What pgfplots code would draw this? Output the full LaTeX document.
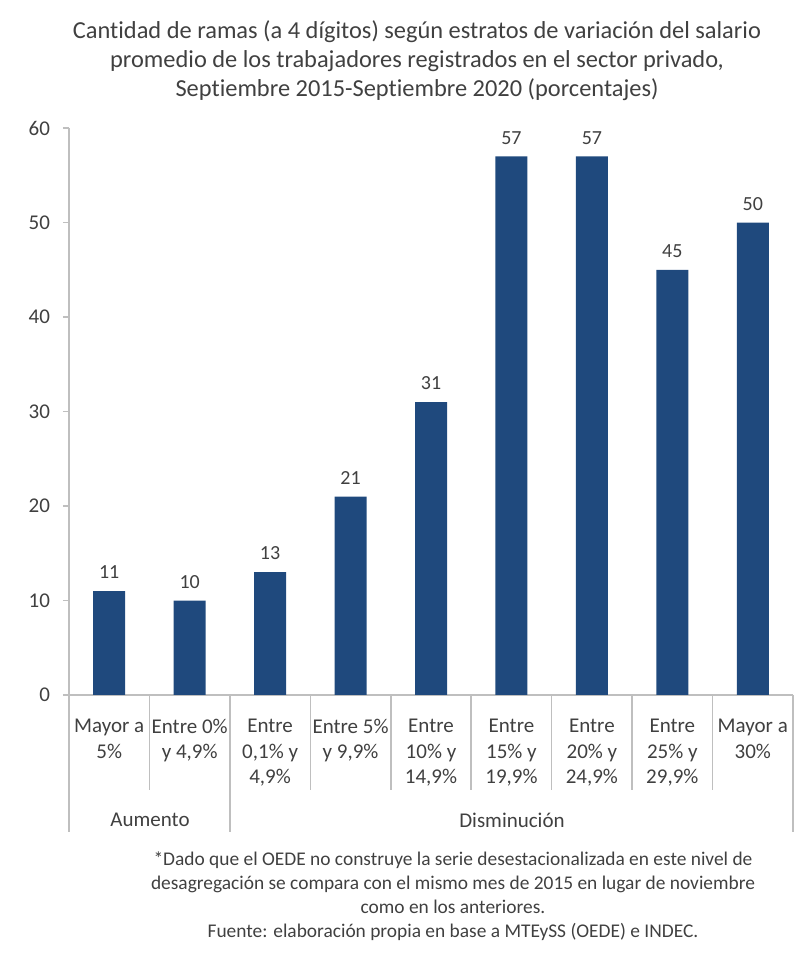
\documentclass[border=0pt]{standalone}
\usepackage{pgfplots}
\pgfplotsset{compat=1.18}
\usepackage{fontspec}
\setmainfont[Ligatures=NoCommon]{Carlito}
\definecolor{barblue}{RGB}{31,73,125}
\definecolor{txt}{RGB}{64,64,64}
\definecolor{axgray}{RGB}{191,191,191}
\begin{document}
\begin{tikzpicture}
\useasboundingbox (0pt,0pt) rectangle (400pt,480pt);
\begin{axis}[
  at={(34.5pt,132.5pt)}, anchor=south west,
  scale only axis, width=362pt, height=283.5pt,
  xmin=-0.5, xmax=8.5, ymin=0, ymax=60,
  axis x line*=bottom, axis y line*=left,
  axis line style={draw=axgray, line width=0.8pt},
  ytick={0,10,20,30,40,50,60},
  tick align=outside,
  major tick length=3pt,
  ytick style={draw=axgray, line width=0.8pt},
  xtick=data,
  xtick style={draw=none},
  xticklabels={{Mayor a\\5\%},{Entre 0\%\\y 4,9\%},{Entre\\0,1\% y\\4,9\%},{Entre 5\%\\y 9,9\%},{Entre\\10\% y\\14,9\%},{Entre\\15\% y\\19,9\%},{Entre\\20\% y\\24,9\%},{Entre\\25\% y\\29,9\%},{Mayor a\\30\%}},
  xticklabel style={align=center, anchor=north, font=\fontsize{10.5}{12.75}\selectfont, text=txt, yshift=-5.5pt},
  yticklabel style={font=\fontsize{10.5}{12}\selectfont, text=txt, xshift=-3pt},
  /pgf/number format/assume math mode=true,
  nodes near coords,
  every node near coord/.append style={font=\fontsize{10}{12}\selectfont, text=txt, yshift=2.5pt},
  clip=false,
]
\addplot[ybar, bar width=16pt, fill=barblue, draw=none] coordinates {
 (0,11) (1,10) (2,13) (3,21) (4,31) (5,57) (6,57) (7,45) (8,50)};
\end{axis}
\begin{scope}[x=0.5pt,y=0.5pt]
\node[align=center,text=txt,font=\fontsize{12.2}{14.5}\selectfont] at (417,899)
 {Cantidad de ramas (a 4 dígitos) según estratos de variación del salario\\
  promedio de los trabajadores registrados en el sector privado,\\
  Septiembre 2015-Septiembre 2020 (porcentajes)};
\foreach \k in {1,3,4,5,6,7,8}{
  \draw[axgray, line width=0.8pt] ({69+80.44*\k},265) -- ({69+80.44*\k},170);
}
\foreach \k in {0,2,9}{
  \draw[axgray, line width=0.8pt] ({69+80.44*\k},265) -- ({69+80.44*\k},128);
}
\node[text=txt,font=\fontsize{10.5}{12}\selectfont] at (150,140) {Aumento};
\node[text=txt,font=\fontsize{10.5}{12}\selectfont] at (512,140) {Disminución};
\node[align=center,text=txt,font=\fontsize{9.7}{12}\selectfont] at (453,64)
 {*Dado que el OEDE no construye la serie desestacionalizada en este nivel de\\
  desagregación se compara con el mismo mes de 2015 en lugar de noviembre\\
  como en los anteriores.\\
  Fuente: elaboración propia en base a MTEySS (OEDE) e INDEC.};
\end{scope}
\end{tikzpicture}
\end{document}
